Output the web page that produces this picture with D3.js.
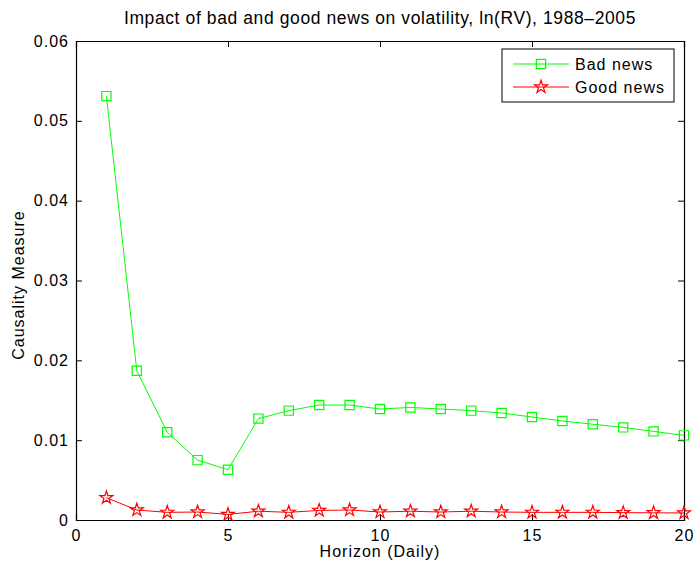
<!DOCTYPE html>
<html>
<head>
<meta charset="utf-8">
<script src="https://cdn.jsdelivr.net/npm/d3@7"></script>
<style>
  body { margin: 0; background: #fff; }
  text { font-family: "Liberation Sans", Arial, sans-serif; fill: #000; }
</style>
</head>
<body>
<div id="chart"></div>
<script>
// horizons and the two causality series
var horizons = [1,2,3,4,5,6,7,8,9,10,11,12,13,14,15,16,17,18,19,20];
var badNews = [0.0531,0.0187,0.0110,0.0075,0.0063,0.0127,0.0137,0.0144,0.0144,0.0139,
               0.0141,0.0139,0.0137,0.0134,0.0129,0.0124,0.0120,0.0116,0.0111,0.0106];
var goodNews = [0.0028,0.00125,0.00096,0.0010,0.0007,0.0011,0.00096,0.0012,0.00125,0.0010,
                0.0011,0.0010,0.0011,0.0010,0.00096,0.00096,0.00096,0.00092,0.0009,0.00088];
var xTicks = [0,5,10,15,20];
var yTicks = [0,0.01,0.02,0.03,0.04,0.05,0.06];

var margin = { top: 41, left: 76, right: 13, bottom: 53 },
    width = 697 - margin.left - margin.right,
    height = 573 - margin.top - margin.bottom;

var svg = d3.select("#chart")
  .append("svg")
  .attr("width", 697)
  .attr("height", 573)
  .append("g")
  .attr("transform", "translate(" + margin.left + "," + margin.top + ")");

var xPositionScale = d3.scaleLinear().domain([0,20]).range([0, width]);
var yPositionScale = d3.scaleLinear().domain([0,0.06]).range([height, 0]);

// axes, matlab style: ticks inward, box all round
var xAxis = d3.axisBottom(xPositionScale).tickValues(xTicks).tickSize(-6).tickPadding(10)
  .tickFormat(d3.format("d"));
var yAxis = d3.axisLeft(yPositionScale).tickValues(yTicks).tickSize(-6).tickPadding(7)
  .tickFormat(function(d){ return d === 0 ? "0" : d3.format(".2f")(d); });

svg.append("g").attr("class","x-axis")
  .attr("transform", "translate(0," + height + ")")
  .call(xAxis);
svg.append("g").attr("class","y-axis").call(yAxis);
svg.append("g")
  .call(d3.axisTop(xPositionScale).tickValues(xTicks).tickSize(-6).tickFormat(""));
svg.append("g")
  .attr("transform", "translate(" + width + ",0)")
  .call(d3.axisRight(yPositionScale).tickValues(yTicks).tickSize(-6).tickFormat(""));

svg.selectAll(".domain").attr("stroke", "#000").attr("stroke-width", 1.2);
svg.selectAll(".tick line").attr("stroke", "#000");
svg.selectAll(".tick text")
  .style("font-size", "16px")
  .style("letter-spacing", "1px")
  .style("font-family", "Liberation Sans, Arial, sans-serif");

// lines
var line = d3.line()
  .x(function(d,i){ return xPositionScale(horizons[i]); })
  .y(function(d){ return yPositionScale(d); });

svg.append("path").datum(badNews)
  .attr("d", line).attr("fill","none").attr("stroke","#00ff00").attr("stroke-width",1);
svg.append("path").datum(goodNews)
  .attr("d", line).attr("fill","none").attr("stroke","#ff0000").attr("stroke-width",1);

var square = d3.symbol().type(d3.symbolSquare).size(85);
var star = d3.symbol().type(d3.symbolStar).size(52);

svg.selectAll(".bad")
  .data(badNews)
  .enter().append("path")
  .attr("class","bad")
  .attr("d", square)
  .attr("transform", function(d,i){ return "translate(" + xPositionScale(horizons[i]) + "," + yPositionScale(d) + ")"; })
  .attr("fill","none").attr("stroke","#00ff00").attr("stroke-width",1.2);

svg.selectAll(".good")
  .data(goodNews)
  .enter().append("path")
  .attr("class","good")
  .attr("d", star)
  .attr("transform", function(d,i){ return "translate(" + xPositionScale(horizons[i]) + "," + yPositionScale(d) + ")"; })
  .attr("fill","none").attr("stroke","#ff0000").attr("stroke-width",1.2);

// title and labels
svg.append("text")
  .attr("x", width/2)
  .attr("y", -17)
  .style("text-anchor","middle")
  .style("font-size","17.5px")
  .style("letter-spacing","0.6px")
  .text("Impact of bad and good news on volatility, ln(RV), 1988\u20132005");

svg.append("text")
  .attr("x", xPositionScale(10))
  .attr("y", height + 37)
  .style("text-anchor","middle")
  .style("font-size","16px")
  .style("letter-spacing","1px")
  .text("Horizon (Daily)");

svg.append("text")
  .attr("transform","rotate(-90)")
  .attr("x", -244)
  .attr("y", -52)
  .style("text-anchor","middle")
  .style("font-size","16px")
  .style("letter-spacing","1px")
  .text("Causality Measure");

// legend
var legend = svg.append("g").attr("transform","translate(" + (502 - margin.left) + "," + (49 - margin.top) + ")");
legend.append("rect").attr("width",172).attr("height",53)
  .attr("fill","#fff").attr("stroke","#000").attr("stroke-width",1);

var legendItems = [
  { label: "Bad news", color: "#00ff00", sym: square },
  { label: "Good news", color: "#ff0000", sym: star }
];
legendItems.forEach(function(item, i){
  var yy = 15 + i*23;
  legend.append("line").attr("x1",11).attr("x2",67).attr("y1",yy).attr("y2",yy)
    .attr("stroke",item.color).attr("stroke-width",1);
  legend.append("path").attr("d",item.sym)
    .attr("transform","translate(39," + yy + ")")
    .attr("fill","none").attr("stroke",item.color).attr("stroke-width",1.2);
  legend.append("text").attr("x",73).attr("y",yy + 6)
    .style("font-size","16px")
    .style("letter-spacing","1px")
    .text(item.label);
});
</script>
</body>
</html>
